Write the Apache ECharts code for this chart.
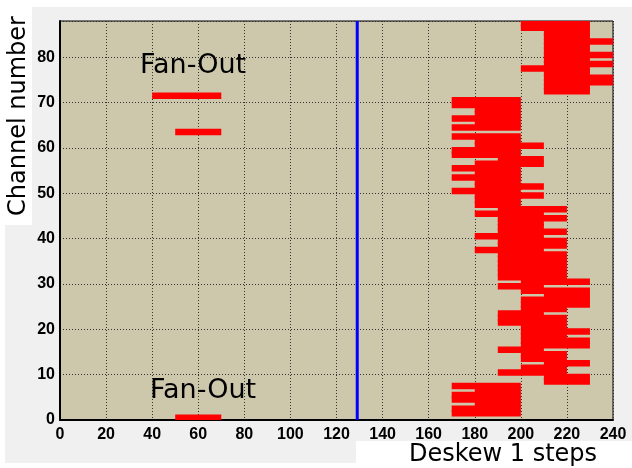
<!DOCTYPE html>
<html>
<head>
<meta charset="utf-8">
<script src="https://cdn.jsdelivr.net/npm/echarts@6/dist/echarts.min.js"></script>
<style>html,body{margin:0;padding:0;background:#fff;}#c{width:632px;height:468px;}</style>
</head>
<body>
<div id="c"></div>
<script>
// Channel numbers (y) and the deskew-step range [lo, hi] found for each channel
const channels = [0,1,2,3,4,5,6,7,8,9,10,11,12,13,14,15,16,17,18,19,20,21,22,23,24,25,26,27,28,29,
  30,31,32,33,34,35,36,37,38,39,40,41,42,43,44,45,46,47,48,49,50,51,52,53,54,55,56,57,58,59,
  60,61,62,63,64,65,66,67,68,69,70,71,72,73,74,75,76,77,78,79,80,81,82,83,84,85,86,87];
const stepLo = [50,170,170,180,170,170,180,170,210,210,190,200,210,200,200,190,200,200,200,200,
  200,190,190,190,200,200,200,210,200,190,200,190,190,190,190,190,190,180,190,190,
  180,190,190,190,190,180,190,180,180,180,170,180,180,170,180,170,180,190,170,170,
  180,180,170,50,170,180,170,180,180,170,170,40,210,210,210,210,210,200,210,210,
  210,210,210,210,210,210,200,200];
const stepHi = [70,200,200,200,200,200,200,200,230,230,220,220,230,220,220,210,230,230,220,230,
  220,220,220,210,220,230,230,230,230,210,230,220,220,220,220,220,220,210,220,220,
  210,220,210,210,220,210,220,200,200,210,200,210,200,200,200,200,210,210,200,200,
  210,200,200,70,200,200,200,200,200,200,200,70,230,230,240,240,230,230,240,230,
  240,230,230,240,230,230,230,230];
const markerStep = 129;
const xTicks = [0,20,40,60,80,100,120,140,160,180,200,220,240];
const yTicks = [0,10,20,30,40,50,60,70,80];
const xRange = [0, 240];
const yRange = [0, 88];

const BAR_H = 6.5;
const chart = echarts.init(document.getElementById('c'), null, {renderer:'canvas'});
const labelStyle = {color:'#000', fontWeight:'bold', fontSize:16, fontFamily:'Liberation Sans, Arial, sans-serif'};
const option = {
  animation: false,
  backgroundColor: '#f0f0f0',
  grid: {left:60, top:21, width:553, height:399, show:true, backgroundColor:'#cdc7ab', borderColor:'#000', borderWidth:1},
  xAxis: {
    type:'value', min:xRange[0], max:xRange[1], interval:20,
    axisLine:{show:true, onZero:false, lineStyle:{color:'#000', width:2}},
    axisTick:{show:false},
    axisLabel:Object.assign({margin:7, formatter:v => xTicks.indexOf(v) >= 0 ? String(v) : ''}, labelStyle),
    splitLine:{show:true, lineStyle:{color:'#333', type:[1,2], width:1}}
  },
  yAxis: {
    type:'value', min:yRange[0], max:yRange[1], interval:10,
    axisLine:{show:true, onZero:false, lineStyle:{color:'#000', width:2}},
    axisTick:{show:false},
    axisLabel:Object.assign({margin:5, showMaxLabel:false, formatter:v => yTicks.indexOf(v) >= 0 ? String(v) : ''}, labelStyle),
    splitLine:{show:true, lineStyle:{color:'#333', type:[1,2], width:1}}
  },
  graphic: [
    {type:'rect', shape:{x:0, y:0, width:632, height:7}, style:{fill:'#fff'}, silent:true},
    {type:'rect', shape:{x:0, y:0, width:32, height:225}, style:{fill:'#fff'}, silent:true},
    {type:'rect', shape:{x:0, y:0, width:5, height:468}, style:{fill:'#fff'}, silent:true},
    {type:'rect', shape:{x:0, y:463, width:632, height:5}, style:{fill:'#fff'}, silent:true},
    {type:'rect', shape:{x:356, y:441, width:276, height:27}, style:{fill:'#fff'}, silent:true},
    {type:'text', x:18.5, y:116, rotation:Math.PI/2,
      style:{text:'Channel number', fontSize:24, fontFamily:'DejaVu Sans', fill:'#000', align:'center', verticalAlign:'middle'}},
    {type:'text', x:503, y:455,
      style:{text:'Deskew 1 steps', fontSize:24, fontFamily:'DejaVu Sans', fill:'#000', align:'center', verticalAlign:'middle'}},
    {type:'text', x:193, y:66, z:10,
      style:{text:'Fan-Out', fontSize:27, fontFamily:'DejaVu Sans', fill:'#000', align:'center', verticalAlign:'middle'}},
    {type:'text', x:203, y:391, z:10,
      style:{text:'Fan-Out', fontSize:27, fontFamily:'DejaVu Sans', fill:'#000', align:'center', verticalAlign:'middle'}}
  ],
  series: [
    {
      type:'custom',
      clip:true,
      data: channels.map((c, i) => [stepLo[i], stepHi[i], c]),
      encode:{x:[0,1], y:2},
      renderItem: function(params, api) {
        const yc = api.value(2) + 0.5;
        const p0 = api.coord([api.value(0), yc]);
        const p1 = api.coord([api.value(1), yc]);
        return {type:'rect', shape:{x:p0[0], y:p0[1] - BAR_H/2, width:p1[0] - p0[0], height:BAR_H},
          style:{fill:'#ff0000'}};
      }
    },
    {
      type:'line',
      data:[[markerStep, yRange[0]], [markerStep, yRange[1]]],
      showSymbol:false,
      lineStyle:{color:'#0000ff', width:3},
      z:5
    }
  ]
};
chart.setOption(option);
</script>
</body>
</html>
